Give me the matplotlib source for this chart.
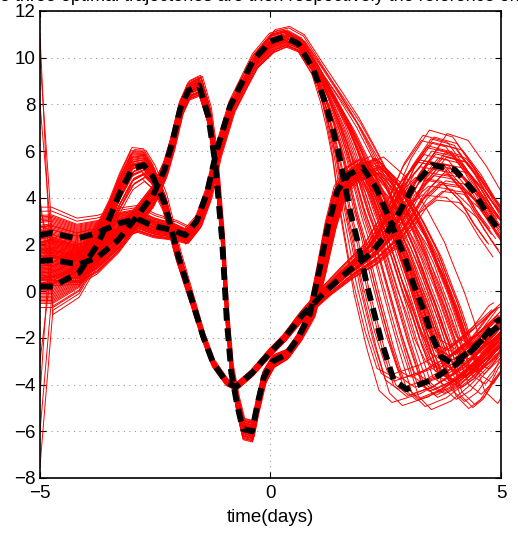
import numpy as np
import matplotlib.pyplot as plt

plt.rcParams['font.family'] = ['Liberation Sans', 'DejaVu Sans']

# -----------------------------
# optimal (black dashed) trajectories
# -----------------------------
xa = [-5, -4.72, -4.15, -3.75, -3.5, -3.27, -3.0, -2.75, -2.55, -2.3, -2.0, -1.67, -1.46,
      -1.24, -0.95, -0.75, -0.4, 0.0, 0.3, 0.7, 1.2, 1.65, 2.17, 2.5, 2.8, 3.1, 3.5, 4.0,
      4.4, 4.7, 5.0]
ya = [0.2, 0.2, 0.8, 2.0, 3.1, 4.2, 5.25, 5.4, 4.9, 3.8, 1.5, -0.6, -1.95,
      -3.1, -3.9, -4.1, -3.5, -2.6, -2.0, -1.0, 0.0, 0.8, 1.6, 2.4, 3.4, 4.5, 5.4, 5.2,
      4.3, 3.3, 2.5]

xb = [-5, -4.72, -4.15, -3.75, -3.3, -2.9, -2.55, -2.3, -2.14, -1.96, -1.78, -1.55, -1.35,
      -1.2, -1.05, -0.95, -0.85, -0.72, -0.6, -0.4, -0.3, -0.15, 0.05, 0.35, 0.6, 0.85,
      1.05, 1.25, 1.45, 1.7, 2.0, 2.3, 2.6, 2.9, 3.1, 3.3, 3.5, 3.7, 3.95, 4.3, 4.7, 5.0]
yb = [1.3, 1.33, 1.15, 1.45, 2.2, 3.2, 4.1, 5.2, 6.3, 7.8, 8.6, 8.8, 7.5,
      5.5, 2.2, -1.2, -3.5, -4.9, -5.9, -6.0, -5.0, -3.7, -3.0, -2.7, -2.0, -1.0,
      0.8, 2.8, 4.3, 5.0, 5.3, 4.4, 3.0, 1.5, 0.3, -0.7, -1.9, -2.8, -3.1, -2.6, -1.9, -1.4]

xc = [-5, -4.75, -4.2, -3.75, -3.3, -2.9, -2.55, -2.1, -1.85, -1.6, -1.38, -1.17, -0.88,
      -0.59, -0.37, 0.0, 0.3, 0.6, 0.93, 1.15, 1.33, 1.48, 1.6, 1.73, 1.88, 2.1, 2.4,
      2.67, 2.95, 3.5, 4.05, 4.5, 4.9, 5.0]
yc = [2.4, 2.5, 2.25, 2.5, 2.9, 3.1, 2.8, 2.6, 2.4, 3.0, 4.2, 6.0, 7.9,
      9.05, 9.9, 10.7, 10.9, 10.6, 9.5, 8.3, 7.1, 5.9, 4.7, 3.4, 2.2, 0.2, -2.1,
      -3.8, -4.2, -3.8, -3.1, -2.3, -1.3, -1.2]

# -----------------------------
# spread of the red trajectories around each optimal one
# -----------------------------
gx = [-5, -4.5, -4, -3.5, -3, -2.5, -2, -1.5, -1, -0.5, 0, 0.5, 1, 1.5, 2, 2.5, 3, 3.5, 4, 4.5, 5]
vs_a = [1.2, 1.2, 1.0, 0.8, 0.9, 0.5, 0.3, 0.2, 0.15, 0.15, 0.15, 0.15, 0.2, 0.3, 0.4, 0.7, 1.1, 1.5, 1.4, 1.1, 1.2]
hs_a = [0, 0, 0, 0, 0.05, 0.05, 0.05, 0.03, 0.03, 0.03, 0.05, 0.05, 0.1, 0.15, 0.2, 0.3, 0.35, 0.35, 0.3, 0.3, 0.3]
vs_b = [1.2, 1.0, 0.8, 0.6, 0.5, 0.5, 0.4, 0.45, 0.3, 0.5, 0.3, 0.2, 0.2, 0.3, 0.5, 0.6, 0.7, 0.8, 0.9, 0.9, 1.0]
hs_b = [0, 0, 0, 0, 0.03, 0.05, 0.05, 0.05, 0.03, 0.03, 0.05, 0.05, 0.1, 0.15, 0.3, 0.5, 0.6, 0.6, 0.5, 0.4, 0.4]
vs_c = [1.2, 1.0, 0.8, 0.7, 0.6, 0.5, 0.4, 0.3, 0.3, 0.35, 0.5, 0.4, 0.3, 0.3, 0.5, 0.6, 0.9, 0.9, 0.9, 0.9, 1.0]
hs_c = [0, 0, 0, 0, 0.02, 0.03, 0.04, 0.05, 0.05, 0.05, 0.05, 0.06, 0.1, 0.4, 0.8, 0.9, 0.9, 0.7, 0.5, 0.4, 0.4]

# member offsets (vertical, horizontal) in units of the spread
dy_a = [-1.0, -0.85, -0.7, -0.6, -0.5, -0.4, -0.3, -0.25, -0.2, -0.1, -0.05, 0.0, 0.05, 0.1,
        0.15, 0.2, 0.3, 0.35, 0.4, 0.5, 0.6, 0.7, 0.8, 0.9, 1.0, 0.45, -0.35, 0.25,
        -0.15, 0.12, 0.55, -0.45, 0.65, 0.08, -0.75, 0.32, 0.85, -0.55, 0.22, 0.75]
dx_a = [0.3, -0.6, 0.9, -0.2, 0.5, -0.9, 0.1, 0.7, -0.4, 1.0, -0.7, 0.2, 0.6, -0.1,
        -0.8, 0.4, -0.5, 0.8, 0.0, -0.3, 0.55, -0.65, 0.15, 0.95, -0.15, 0.35, -1.0, 0.75,
        0.45, -0.45, -0.25, 0.85, 0.05, -0.85, 0.65, 0.25, -0.55, 0.5, 0.9, -0.05]
dy_b = [0.6, -0.9, 0.2, -0.4, 1.0, -0.1, 0.35, -0.7, 0.8, -0.25, 0.05, 0.5, -0.55, 0.15,
        -0.8, 0.9, -0.35, 0.25, -0.05, 0.7, -0.6, 0.4, -1.0, 0.1, 0.85, -0.2, 0.3, -0.45,
        0.45, -0.3, 0.65, -0.65, 0.0, 0.55, -0.15, 0.75, -0.85, 0.18, -0.5, 0.38]
dx_b = [-0.5, 0.2, 1.1, -0.3, 0.6, 1.4, -0.1, 0.4, 0.9, -0.6, 0.0, 1.2, 0.3, -0.4,
        0.7, 1.5, 0.1, -0.2, 0.5, 1.0, -0.35, 0.8, 0.25, 1.3, -0.05, 0.65, 0.45, 1.1,
        0.15, 0.85, -0.25, 0.55, 1.25, 0.35, -0.45, 0.95, 0.05, 0.75, 1.35, -0.15]
dy_c = [-0.2, 0.4, -0.9, 0.1, -0.5, 0.7, -1.0, 0.25, -0.35, 0.55, -0.7, 0.0, -0.6, 0.3,
        -0.15, 0.85, -0.8, 0.2, -0.45, 1.0, -0.3, 0.05, -0.65, 0.45, -0.95, 0.6, -0.25, 0.15,
        -0.55, 0.35, -0.1, -0.75, 0.5, -0.4, 0.12, -0.85, 0.28, -0.3, 0.65, -0.05]
dx_c = [0.9, -0.3, 1.6, 0.2, 1.2, -0.4, 0.6, 1.9, 0.0, 1.0, 2.2, -0.2, 1.4, 0.4,
        0.8, 1.7, -0.1, 1.1, 0.3, 2.0, 0.7, 1.3, -0.35, 0.5, 1.5, 0.1, 1.8, 0.95,
        0.25, 1.15, 0.55, 1.65, -0.15, 0.75, 1.35, 0.45, 2.1, 0.05, 1.05, 0.65]

# odd first samples of a few members (left edge spikes)
first_a = [11.0, -7.5, 4.0]
first_b = [10.0, -6.0, -3.0]
first_c = [8.0, -4.5, 3.6]

fig = plt.figure(figsize=(5.18, 5.33), dpi=100)
ax = fig.add_axes([0.0772, 0.1032, 0.8900, 0.8762])

for xs, ys, vs, hs, dys, dxs, firsts in [(xa, ya, vs_a, hs_a, dy_a, dx_a, first_a),
                                         (xb, yb, vs_b, hs_b, dy_b, dx_b, first_b),
                                         (xc, yc, vs_c, hs_c, dy_c, dx_c, first_c)]:
    xs = np.array(xs, float)
    ys = np.array(ys, float)
    v = np.interp(xs, gx, vs)
    h = np.interp(xs, gx, hs)
    for i in range(len(dys)):
        rx = xs + dxs[i] * h
        ry = ys + dys[i] * v
        if i < len(firsts):
            rx = np.concatenate([[-5.0], rx[1:]])
            rx[1] = max(rx[1], -4.93)
            ry = np.concatenate([[firsts[i]], ry[1:]])
        ax.plot(rx, ry, color='red', lw=0.7, zorder=2)

for xs, ys in [(xa, ya), (xb, yb), (xc, yc)]:
    ax.plot(xs, ys, color='black', lw=4.2, ls=(0, (2.2, 1.3)), zorder=3)

ax.set_xlim(-5, 5)
ax.set_ylim(-8, 12)
ax.set_xticks([-5, 0, 5])
ax.set_yticks(range(-8, 13, 2))
ax.grid(True, ls=(0, (1, 4)), color='#999999', lw=0.8)
ax.tick_params(direction='in', top=True, right=True, labelsize=13.5, length=4, pad=3)
ax.tick_params(axis='x', pad=5)
for s in ax.spines.values():
    s.set_linewidth(1.2)
ax.set_xlabel("time(days)", fontsize=13.5, labelpad=5)

fig.text(0.5, 1 - 1 / 533, "The three optimal trajectories are then respectively the reference ones",
         ha='center', va='baseline', fontsize=13)

plt.savefig("out.png", dpi=100)
